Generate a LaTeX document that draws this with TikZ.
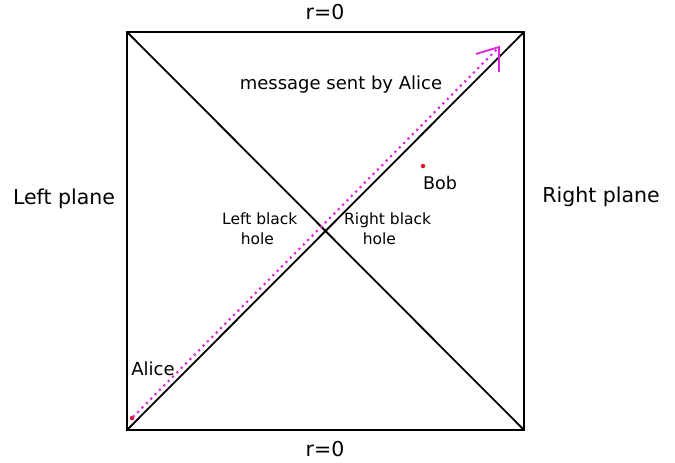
\documentclass[tikz,border=0pt]{standalone}
\usepackage{fontspec}
\setmainfont{DejaVu Sans}
\usetikzlibrary{positioning,calc}
\definecolor{msgpink}{HTML}{E020E0}
\definecolor{dotred}{HTML}{E0102A}
\tikzset{
  frame/.style={draw=black,line width=2pt},
  diag/.style={draw=black,line width=1.8pt},
  biglabel/.style={font=\fontsize{20.5}{24}\selectfont,inner sep=0pt},
  smalllabel/.style={font=\fontsize{15.5}{20}\selectfont,inner sep=0pt,align=left},
  msgline/.style={draw=msgpink,line width=3pt,dash pattern=on 0pt off 6.2pt,line cap=round},
  msghead/.style={draw=msgpink,line width=1.8pt},
  person/.style={circle,fill=dotred,inner sep=0pt,minimum size=4.5pt}
}
\begin{document}
\begin{tikzpicture}[x=1pt,y=-1pt]
  \path[use as bounding box,fill=white] (0,0) rectangle (675,463);

  % corners of the diagram
  \coordinate (tl) at (127,32);
  \coordinate (tr) at (524,32);
  \coordinate (bl) at (127,430);
  \coordinate (br) at (524,430);

  \draw[frame] (tl) -- (tr) -- (br) -- (bl) -- cycle;
  \draw[diag] (tl) -- (br);
  \draw[diag] (bl) -- (tr);

  % message from Alice
  \node[person] (alice) at (132,418) {};
  \coordinate (tip) at (499,47);
  \coordinate (barbl) at (476,54);
  \coordinate (barbd) at (499,72);
  \draw[msgline] (alice) -- (tip);
  \draw[msghead] (barbl) -- (tip) -- (barbd);

  \node[person] (bob) at (423,166) {};
  \node[smalllabel,font=\fontsize{17.5}{20}\selectfont] (bobtext) at (440,183) {Bob};
  \node[smalllabel,font=\fontsize{18}{20}\selectfont] (alicetext) at (153,369) {Alice};

  \node[biglabel] (rtop) at (325,12) {r=0};
  \node[biglabel] (rbot) at (325,449) {r=0};
  \node[biglabel] (left) at (64,199) {Left plane};
  \node[biglabel] (right) at (601,197) {Right plane};
  \node[smalllabel,font=\fontsize{18}{20}\selectfont] (msg) at (341,85) {message sent by Alice};
  \node[smalllabel,anchor=north west] (lbh) at (222,213) {Left black\\\hspace*{1.2em}hole};
  \node[smalllabel,anchor=north west] (rbh) at (344,213) {Right black\\\hspace*{1.2em}hole};
\end{tikzpicture}
\end{document}
